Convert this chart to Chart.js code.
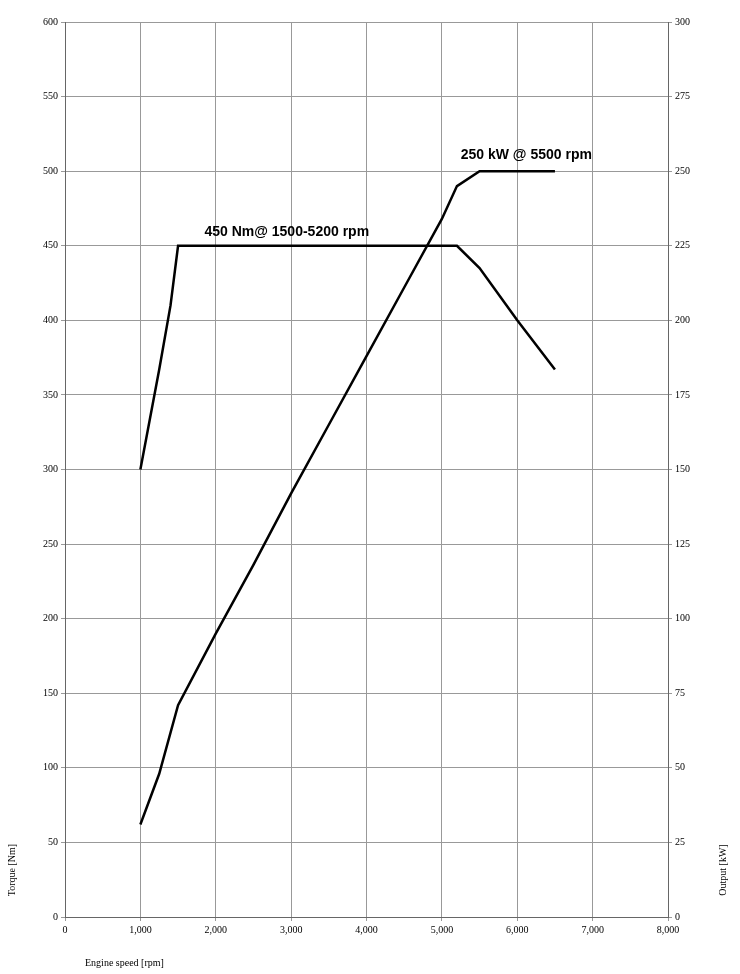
<!DOCTYPE html>
<html>
<head>
<meta charset="utf-8">
<script src="https://cdn.jsdelivr.net/npm/chart.js@4"></script>
<style>
  body { margin: 0; background: #fff; }
  #wrap { width: 740px; height: 974px; }
</style>
</head>
<body>
<div id="wrap"><canvas id="myChart"></canvas></div>
<script>
const torqueRpm = [1000, 1250, 1400, 1500, 5200, 5500, 6000, 6500];
const torqueNm = [300, 367, 410, 450, 450, 435, 400, 367];
const powerRpm = [1000, 1250, 1500, 2000, 2500, 3000, 3500, 4000, 4500, 5000, 5200, 5500, 6500];
const powerKw = [31, 48, 71, 95, 118, 142, 165, 188, 211, 234, 245, 250, 250];
const torqueLabel = "450 Nm@ 1500-5200 rpm";
const powerLabel = "250 kW @ 5500 rpm";

const tickFont = { family: "Liberation Serif", size: 10 };

const labelsPlugin = {
  id: 'labels',
  afterDraw(chart) {
    const ctx = chart.ctx;
    const x = chart.scales.x, yl = chart.scales.yT, yr = chart.scales.yP;
    ctx.save();
    ctx.fillStyle = '#000';
    ctx.font = 'bold 14px "Liberation Sans"';
    ctx.textBaseline = 'bottom';
    ctx.fillText(torqueLabel, x.getPixelForValue(1850), yl.getPixelForValue(450) - 7);
    ctx.fillText(powerLabel, x.getPixelForValue(5250), yr.getPixelForValue(250) - 9);
    ctx.font = '10px "Liberation Serif"';
    ctx.textBaseline = 'middle';
    ctx.fillText('Engine speed [rpm]', 85, 963);
    ctx.translate(12, 870);
    ctx.rotate(-Math.PI / 2);
    ctx.textAlign = 'center';
    ctx.fillText('Torque [Nm]', 0, 0);
    ctx.restore();
    ctx.save();
    ctx.font = '10px "Liberation Serif"';
    ctx.fillStyle = '#000';
    ctx.textBaseline = 'middle';
    ctx.textAlign = 'center';
    ctx.translate(723, 870);
    ctx.rotate(-Math.PI / 2);
    ctx.fillText('Output [kW]', 0, 0);
    ctx.restore();
  }
};

new Chart("myChart", {
  type: "line",
  data: {
    datasets: [{
      data: torqueRpm.map((r, i) => ({ x: r, y: torqueNm[i] })),
      yAxisID: 'yT',
      borderColor: "#000",
      borderWidth: 2.5,
      pointRadius: 0,
      fill: false
    }, {
      data: powerRpm.map((r, i) => ({ x: r, y: powerKw[i] })),
      yAxisID: 'yP',
      borderColor: "#000",
      borderWidth: 2.5,
      pointRadius: 0,
      fill: false
    }]
  },
  options: {
    responsive: true,
    maintainAspectRatio: false,
    animation: false,
    layout: { padding: { top: 22 } },
    plugins: { legend: { display: false }, tooltip: { enabled: false } },
    scales: {
      x: {
        type: 'linear', min: 0, max: 8000,
        ticks: { stepSize: 1000, color: '#000', font: tickFont, maxRotation: 0 },
        grid: { color: '#999', tickLength: 4 },
        border: { color: '#666' },
        afterFit(s) { s.height = 57; }
      },
      yT: {
        position: 'left', min: 0, max: 600,
        ticks: { stepSize: 50, color: '#000', font: tickFont },
        grid: { color: '#999', tickLength: 4 },
        border: { color: '#666' },
        afterFit(s) { s.width = 65; }
      },
      yP: {
        position: 'right', min: 0, max: 300,
        ticks: { stepSize: 25, color: '#000', font: tickFont },
        grid: { drawOnChartArea: false, tickLength: 4, color: '#999' },
        border: { color: '#666' },
        afterFit(s) { s.width = 72; }
      }
    }
  },
  plugins: [labelsPlugin]
});
</script>
</body>
</html>
